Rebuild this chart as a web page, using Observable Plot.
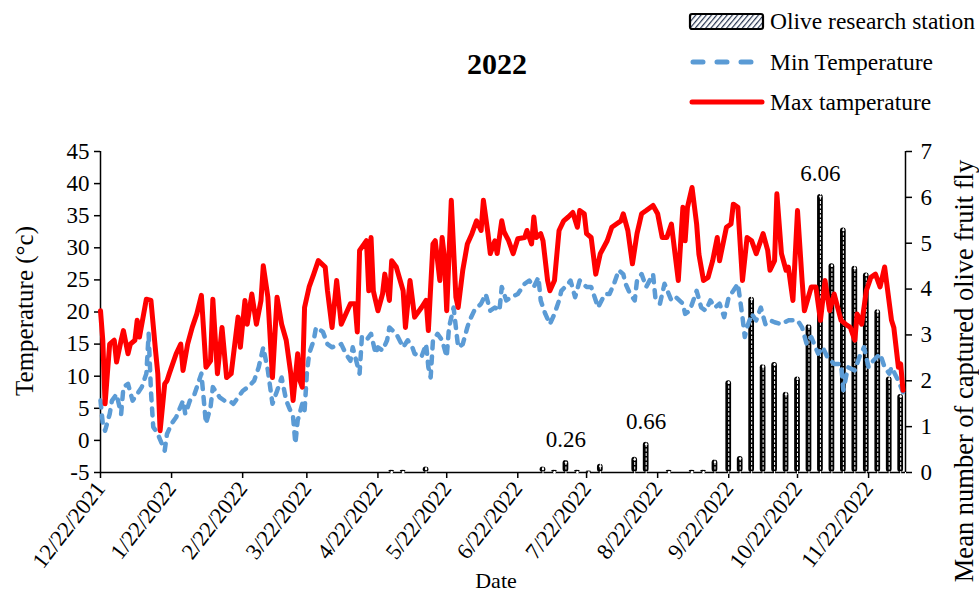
<!DOCTYPE html>
<html><head><meta charset="utf-8">
<script src="https://cdn.jsdelivr.net/npm/d3@7"></script>
<script src="https://cdn.jsdelivr.net/npm/@observablehq/plot@0.6"></script>
<style>
body{margin:0;background:#fff;font-family:"Liberation Serif","Times New Roman",serif;color:#000;}
#wrap{position:relative;width:979px;height:594px;overflow:hidden;}
.abs{position:absolute;white-space:nowrap;}
#title{left:0;width:994px;top:46px;text-align:center;font-weight:bold;font-size:30px;line-height:36px;}
.lg{position:absolute;left:688px;height:26px;display:flex;align-items:center;font-size:23.5px;white-space:nowrap;}
.lg svg{margin-right:3px;}
.rot{transform:translate(-50%,-50%) rotate(-90deg);font-size:25px;}
</style></head><body>
<div id="wrap">
<div id="chart"></div>
<div id="title" class="abs">2022</div>
<div class="lg" style="top:8px"><svg width="79" height="20"><defs><pattern id="hatch" patternUnits="userSpaceOnUse" width="4" height="4" patternTransform="rotate(40)"><rect width="4" height="4" fill="#fff"/><line x1="0" y1="0" x2="0" y2="4" stroke="#263450" stroke-width="2.4"/></pattern></defs><rect x="2" y="3" width="73" height="15" rx="2" fill="url(#hatch)" stroke="#000" stroke-width="2.2"/></svg><span>Olive research station</span></div>
<div class="lg" style="top:49px"><svg width="79" height="20"><line x1="5" y1="10" x2="72" y2="10" stroke="#5B9BD5" stroke-width="5" stroke-linecap="round" stroke-dasharray="10,14"/></svg><span>Min Temperature</span></div>
<div class="lg" style="top:89px"><svg width="79" height="20"><line x1="4" y1="10" x2="74" y2="10" stroke="#FF0000" stroke-width="5" stroke-linecap="round"/></svg><span>Max tamperature</span></div>
<div class="abs rot" style="left:25px;top:311px;">Temperature (°c)</div>
<div class="abs rot" style="left:964px;top:371px;font-size:26.5px;">Mean number of captured olive fruit fly</div>
<div class="abs" style="left:496px;top:581px;transform:translate(-50%,-50%);font-size:22px;">Date</div>
</div>
<script>
// day offsets from 12/22/2021
const maxDays = [0,1,2,3,4,6,7,9,10,12,13,15,16,17,20,22,24,25,26,28,29,30,33,35,36,38,40,42,44,46,48,49,51,53,55,57,60,61,63,64,66,68,70,71,73,75,77,79,81,83,84,86,87,88,89,91,93,95,98,99,101,103,105,107,109,111,112,113,116,117,118,119,121,123,124,126,127,129,132,133,135,137,140,142,143,145,146,148,149,150,151,153,155,156,158,160,162,164,166,167,169,170,172,173,175,176,178,180,182,185,186,188,189,190,192,193,195,196,198,200,202,204,206,208,209,211,212,214,216,218,221,223,225,227,228,230,232,234,236,238,241,243,245,247,249,252,254,255,256,258,260,261,263,265,267,269,270,273,275,276,278,280,282,284,286,289,291,292,294,295,297,299,300,302,304,306,307,310,312,314,316,318,320,323,325,327,329,330,332,334,336,338,340,342,345,346,348,349,350];
const maxVals = [20.2,15.6,5.7,10.4,15.0,15.6,12.2,15.6,17.1,13.5,15.0,15.6,18.7,16.1,22.0,21.8,14.0,10.4,1.5,8.8,9.3,10.4,13.5,15.0,10.9,15.0,17.6,19.7,22.6,11.4,12.4,22.0,10.4,17.6,9.8,10.4,19.2,14.5,21.8,18.1,22.8,18.1,21.8,27.2,22.3,9.8,22.3,18.1,15.6,10.4,6.2,13.5,9.3,8.3,20.7,23.9,25.9,28.0,27.0,23.3,17.6,24.9,18.1,19.7,21.3,21.3,16.9,29.6,31.1,23.3,31.6,23.3,20.2,22.8,25.9,21.8,28.0,27.0,23.3,17.6,24.9,19.2,20.7,21.8,17.1,30.6,31.1,24.9,31.6,28.5,20.2,37.4,22.3,20.7,26.5,30.6,32.2,34.2,32.7,37.4,32.2,29.1,31.1,29.1,34.2,32.5,31.1,29.1,31.4,31.6,32.7,30.6,34.8,31.6,32.2,31.1,24.9,23.3,24.9,32.7,34.2,34.8,35.5,33.2,35.8,35.3,32.2,31.6,25.9,29.1,31.1,33.2,33.7,34.2,35.3,32.7,27.5,32.2,35.3,35.8,36.6,35.3,31.6,31.6,33.7,24.9,36.3,31.1,36.3,39.4,33.7,29.0,24.9,25.4,28.0,31.6,28.0,33.2,33.7,36.8,36.3,24.9,31.6,31.1,29.1,32.2,29.6,26.5,28.0,38.4,29.1,26.5,27.0,21.8,35.8,24.9,20.2,23.9,23.9,18.7,24.9,20.2,22.8,18.7,18.1,17.6,15.6,19.7,18.1,23.3,25.4,25.9,23.9,27.0,18.7,17.6,11.4,11.9,7.8];
const minDays = [0,1,2,4,5,7,9,10,12,14,16,18,20,21,22,23,25,28,29,31,33,36,37,39,41,44,46,48,49,52,54,56,58,62,65,67,69,71,73,75,77,79,81,84,85,86,88,89,90,91,93,94,97,99,101,105,107,109,110,113,114,116,118,120,121,123,125,126,129,132,134,136,137,140,142,143,144,145,147,149,151,152,154,156,158,160,161,163,166,168,170,172,174,175,177,179,182,185,187,189,191,192,194,196,198,200,201,204,205,207,209,212,214,216,217,220,222,224,226,228,229,231,233,234,236,238,241,242,244,246,249,251,254,255,257,260,262,264,266,268,270,272,274,276,278,280,281,282,284,286,288,290,292,294,297,300,302,304,306,308,310,313,315,317,320,323,324,326,329,331,333,335,337,340,342,344,345,348,350];
const minVals = [6.2,2.6,1.5,4.1,6.2,7.2,4.1,8.3,8.8,6.2,7.2,8.3,10.4,16.6,7.7,2.1,1.0,-1.6,1.0,2.6,3.6,6.2,4.1,6.2,7.2,10.4,2.6,5.2,8.3,6.7,6.2,6.2,5.7,7.7,8.5,9.3,11.4,14.5,10.9,5.7,7.7,9.8,6.2,3.6,-0.5,3.1,5.7,4.6,10.4,13.5,15.6,17.6,16.9,15.0,14.5,15.0,13.5,12.4,14.5,10.4,16.1,15.6,16.6,13.5,14.5,14.0,15.6,17.6,16.6,14.5,15.6,14.5,13.5,13.0,15.0,11.4,9.8,15.6,16.6,15.6,13.0,17.6,20.7,14.5,15.0,17.6,18.7,20.2,21.3,22.8,20.2,20.7,20.2,23.9,21.8,22.3,22.8,24.4,24.9,23.9,25.4,21.8,19.7,18.1,19.7,21.8,23.3,24.4,24.9,22.3,24.9,23.9,23.9,21.8,20.7,22.8,22.8,24.4,26.5,25.9,24.4,22.8,21.8,24.9,25.9,23.9,25.9,22.3,21.3,24.4,21.8,22.3,21.3,19.7,20.2,23.3,20.7,20.2,21.8,20.7,21.3,19.2,22.3,23.3,24.4,19.2,16.1,17.6,19.7,18.7,20.7,18.1,18.7,18.4,18.1,18.7,18.7,18.7,17.6,15.0,16.1,13.5,14.5,13.0,11.9,11.9,7.8,11.4,10.9,13.0,14.5,11.4,12.4,13.5,11.4,10.4,11.4,9.3,7.5];
const flyDays = [127,132,142,193,198,203,208,213,218,233,238,248,258,263,268,274,279,284,289,294,299,304,309,314,319,324,329,334,339,344,349];
const flyVals = [0.05,0.05,0.12,0.12,0.05,0.26,0.05,0.03,0.18,0.33,0.66,0.05,0.05,0.05,0.27,2.0,0.35,3.82,2.35,2.4,1.75,2.08,3.22,6.06,4.55,5.33,4.5,4.35,3.55,2.08,1.7];
const flyLabelled = [0.26,0.66,6.06];
const xTickDays = [0,31,62,90,121,151,182,212,243,274,304,335];
const tempTicks = [-5,0,5,10,15,20,25,30,35,40,45];
const flyTicks = [0,1,2,3,4,5,6,7];
const xEndDay = 351.1;

const start = Date.UTC(2021,11,22);
const toDate = d => new Date(start + d*864e5);
const tMin = -5, tMax = 45, fMax = 7;
const toTemp = v => tMin + v*(tMax - tMin)/fMax;

const maxData = maxDays.map((d,i)=>({date:toDate(d), t:maxVals[i]}));
const minData = minDays.map((d,i)=>({date:toDate(d), t:minVals[i]}));
const flyData = flyDays.map((d,i)=>({date:toDate(d), x1:toDate(d-1.25), x2:toDate(d+1.25), v:flyVals[i], y:toTemp(flyVals[i])}));

const chart = Plot.plot({
  width:979, height:594,
  marginLeft:100, marginRight:74, marginTop:151, marginBottom:122,
  style:{fontFamily:"'Liberation Serif','Times New Roman',serif", color:"#000", background:"#fff", overflow:"visible"},
  x:{type:"utc", domain:[toDate(0), toDate(xEndDay)]},
  y:{domain:[tMin, tMax]},
  marks:[
    Plot.axisY({ticks:tempTicks, tickFormat:d=>String(d), tickSize:6, tickPadding:5, label:null, fontSize:23, strokeWidth:1.5}),
    Plot.axisY({anchor:"right", ticks:flyTicks.map(toTemp), tickFormat:t=>String(Math.round((t-tMin)*fMax/(tMax-tMin))), tickSize:6, tickPadding:9, label:null, fontSize:23, strokeWidth:1.5}),
    Plot.axisX({ticks:xTickDays.map(toDate), tickFormat:d3.utcFormat("%-m/%-d/%Y"), tickRotate:-52, tickSize:6, tickPadding:6, label:null, fontSize:22.5, strokeWidth:1.5}),
    Plot.ruleX([toDate(0)], {stroke:"#000", strokeWidth:1.5}),
    Plot.ruleX([toDate(xEndDay)], {stroke:"#000", strokeWidth:1.5}),
    Plot.ruleY([tMin], {stroke:"#000", strokeWidth:1.5}),
    Plot.rectY(flyData, {x1:"x1", x2:"x2", y1:tMin, y2:"y", fill:"#000", rx:3}),
    Plot.ruleX(flyData, {x:"date", y1:tMin, y2:"y", stroke:"#fff", strokeWidth:1, strokeDasharray:"3,1.5", insetTop:2, insetBottom:2}),
    Plot.dot(flyData, {x:"date", y:"y", r:1.2, fill:"#fff", dy:2}),
    Plot.line(minData, {x:"date", y:"t", stroke:"#5B9BD5", strokeWidth:4.5, strokeDasharray:"7,8", strokeLinecap:"round", strokeLinejoin:"round"}),
    Plot.line(maxData, {x:"date", y:"t", stroke:"#FF0000", strokeWidth:5, strokeLinejoin:"round"}),
    Plot.text(flyData.filter(d=>flyLabelled.includes(d.v)), {x:"date", y:"y", text:d=>d.v.toFixed(2), dy:-21, fontSize:23, fill:"#000"})
  ]
});
document.getElementById("chart").appendChild(chart);
</script>
</body></html>
